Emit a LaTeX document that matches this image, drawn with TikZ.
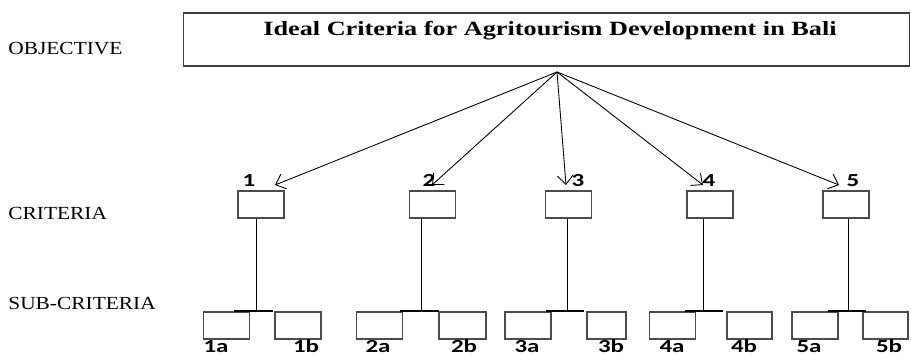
\documentclass[tikz,border=0pt]{standalone}
\usepackage{fontspec}
\setmainfont{Liberation Serif}
\newfontfamily\lvlfont[FakeStretch=1.16]{Liberation Serif}
\newfontfamily\titlefont[FakeStretch=1.3]{Liberation Serif}
\newfontfamily\numfont[FakeStretch=1.35]{Carlito}
\usetikzlibrary{arrows.meta}

\begin{document}
\begin{tikzpicture}[x=0.02cm,y=-0.02cm,
	lvl/.style={anchor=base west,inner sep=0,font=\lvlfont\fontsize{10.5}{12}\selectfont},
	num/.style={anchor=base,inner sep=0,font=\numfont\bfseries\fontsize{10.5}{12}\selectfont},
	box/.style={draw=black!70,line width=0.9pt,minimum width=0.92cm,minimum height=0.54cm,inner sep=0},
	arr/.style={-{Straight Barb[length=5pt,width=9pt]},line width=0.5pt},
	bar/.style={line width=1.1pt}]
	\useasboundingbox (0,0) rectangle (911,355);
	%\draw[step=50,gray!20] (0,0) grid (911,355); %Hilfsgitter
	\node[lvl] (lobj) at (8,54) {OBJECTIVE};
	\node[lvl] (lcrit) at (8,219) {CRITERIA};
	\node[lvl] (lsub) at (8,309) {SUB-CRITERIA};
	\node[draw=black!75,line width=0.6pt,minimum width=14.54cm,minimum height=1.06cm,inner sep=0] (goal) at (546.5,39.5) {};
	\node[anchor=base,inner sep=0,font=\titlefont\bfseries\fontsize{11.5}{14}\selectfont] (title) at (550,35.5) {Ideal Criteria for Agritourism Development in Bali};
	\coordinate (apex) at (557,72);
	\foreach \i/\cx/\nx/\tx/\vx/\ax/\bx/\bw/\bl/\br/\lax/\lbx in {
		1/261/249/275/256/226.5/298/46/234/273/216/306,
		2/432.5/429/432/421/379.5/462.5/47/400/439/378/464,
		3/568.5/578/566/567/528/606.5/39/546/584/527/611,
		4/710/709/703/703/672.5/749.5/45/685/723/672/744,
		5/846/853/839/848/815/885.5/45/828/866/809/889}{
		\node[num] (n\i) at (\nx,186) {\i};
		\node[box] (c\i) at (\cx,204.5) {};
		\coordinate (t\i) at (\tx,185);
		\draw[arr] (apex) -- (t\i);
		\node[box] (s\i-a) at (\ax,325.5) {};
		\node[box,minimum width=\bw*0.02cm] (s\i-b) at (\bx,325.5) {};
		\coordinate (bl\i) at (\bl,311); \coordinate (br\i) at (\br,311); \coordinate (j\i) at (\vx,311);
		\draw[bar] (bl\i) -- (br\i);
		\draw[line width=0.5pt] (c\i.south -| j\i) -- (j\i);
		\node[num] (l\i-a) at (\lax,352) {\i a};
		\node[num] (l\i-b) at (\lbx,352) {\i b};
	}
\end{tikzpicture}
\end{document}
